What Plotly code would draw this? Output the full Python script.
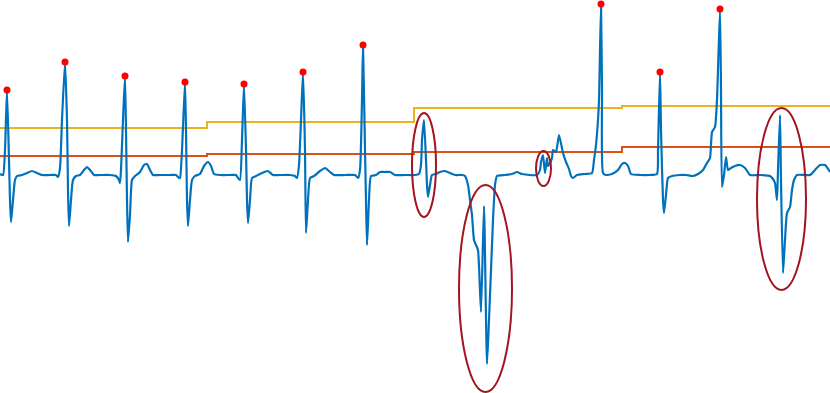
import plotly.graph_objects as go

# ECG trace: sample index and amplitude (baseline = 0)
ecg_t = [0, 3, 5, 7, 9, 10, 11, 13, 15, 17, 22, 27, 32, 37, 42, 50, 56, 58, 60, 62,
         65, 67, 68, 69, 71, 73, 76, 80, 84, 87, 90, 94, 100, 110, 116, 119, 120, 121, 123, 125,
         126, 127, 128, 130, 132, 135, 140, 144, 147, 150, 153, 160, 170, 176, 179, 180, 182, 185, 186, 187,
         188, 190, 192, 195, 200, 204, 208, 211, 214, 220, 230, 236, 238, 240, 242, 244, 246, 247, 248, 250,
         252, 256, 262, 268, 273, 280, 290, 295, 297, 299, 301, 303, 305, 306, 308, 310, 314, 320, 325, 330,
         334, 345, 355, 358, 360, 362, 363, 365, 366, 367, 369, 371, 376, 380, 385, 390, 395, 405, 415, 419,
         421, 422, 424, 426, 427, 428, 430, 432, 436, 440, 445, 450, 455, 462, 465, 468, 470, 472, 474, 476,
         478, 481, 484, 487, 489, 491, 493, 494, 495, 497, 505, 512, 517, 522, 530, 537, 540, 541, 543, 545,
         547, 548, 550, 552, 553, 556, 559, 563, 566, 569, 571, 573, 577, 585, 592, 594, 596, 598, 599, 601,
         602, 603, 606, 612, 618, 622, 625, 628, 631, 640, 650, 657, 658, 660, 661, 663, 664, 666, 668, 672,
         680, 686, 693, 698, 703, 707, 710, 712, 715, 717, 720, 721, 722, 724, 726, 728, 731, 735, 740, 745,
         750, 760, 770, 773, 775, 777, 778, 780, 781, 783, 785, 787, 790, 792, 794, 797, 805, 810, 815, 820,
         825, 830]
ecg_v = [1, 0, 25, 85, 15, -25, -47, -25, -5, -1, 0, 2, 4, 2, 0, 0, 0, -2, 7, 55,
         113, 55, -15, -51, -25, -5, -1, 0, 5, 8, 5, 0, 0, 0, -1, -5, -8, 5, 55, 99,
         45, -25, -67, -40, -5, -1, 3, 10, 11, 5, 0, 0, 0, 0, -3, -3, 25, 93, 45, -25,
         -51, -25, -5, -1, 1, 9, 13, 9, 1, 0, 0, 0, -3, -5, 35, 91, 25, -25, -48, -25,
         -3, -1, 2, 4, 0, 0, 0, -1, -3, 10, 55, 103, 25, -58, -25, -3, -1, 4, 7, 3,
         0, 0, 0, -3, 5, 75, 130, 25, -25, -70, -25, -1, 0, 3, 3, 3, 0, 0, 0, 1,
         10, 35, 55, 15, -10, -22, -10, 0, 1, 3, 4, 2, 0, 0, -1, -10, -25, -40, -65, -70,
         -75, -137, -31, -189, -145, -95, -45, -25, -10, -1, 0, 1, 3, 1, 0, 0, 5, 13, 20, 2,
         17, 9, 12, 17, 25, 23, 40, 22, 13, 6, -1, -3, 0, 1, 2, 15, 30, 55, 75, 171,
         85, 2, 0, 1, 5, 11, 12, 9, 1, 0, 0, 1, 25, 103, 45, -25, -38, -20, -3, -1,
         0, 0, -1, 1, 5, 12, 17, 43, 48, 75, 166, 85, -12, 0, 18, 5, 7, 9, 10, 7,
         0, 0, -1, -4, -8, -25, 5, 60, -5, -98, -65, -38, -32, -15, -5, 0, 0, 0, 5, 10,
         10, 3]

# detected R peaks (sample indices)
peak_t = [7, 65, 125, 185, 244, 303, 363, 601, 660, 720]

# adaptive thresholds, one level per block
block_start = [0, 207, 414, 622, 830]
thr_high = [47, 53, 67, 69, 69]
thr_low = [19, 21, 23, 28, 28]

# flagged segments: (t0, t1, v0, v1)
flagged = [(412, 436, -42, 62), (459, 512, -217, -10), (536, 551, -11, 24), (757, 806, -115, 67)]

lookup = dict(zip(ecg_t, ecg_v))
peak_v = [lookup[t] for t in peak_t]

fig = go.Figure()
fig.add_trace(go.Scatter(x=block_start, y=thr_high, mode='lines', line=dict(color='#EDB120', width=2, shape='hv')))
fig.add_trace(go.Scatter(x=block_start, y=thr_low, mode='lines', line=dict(color='#D95319', width=2, shape='hv')))
fig.add_trace(go.Scatter(x=ecg_t, y=ecg_v, mode='lines',
                         line=dict(color='#0072BD', width=2.2, shape='spline', smoothing=0.5)))
fig.add_trace(go.Scatter(x=peak_t, y=peak_v, mode='markers', marker=dict(color='#FF0000', size=7)))

for t0, t1, v0, v1 in flagged:
    fig.add_shape(type='circle', xref='x', yref='y', x0=t0, x1=t1, y0=v0, y1=v1,
                  line=dict(color='#A2141F', width=2))

fig.update_layout(width=830, height=393, margin=dict(l=0, r=0, t=0, b=0),
                  paper_bgcolor='white', plot_bgcolor='white', showlegend=False)
fig.update_xaxes(range=[0, 830], visible=False)
fig.update_yaxes(range=[-218, 175], visible=False)

fig.write_html("out.html", config={'displayModeBar': False},
               post_script="document.body.style.margin='0';")
